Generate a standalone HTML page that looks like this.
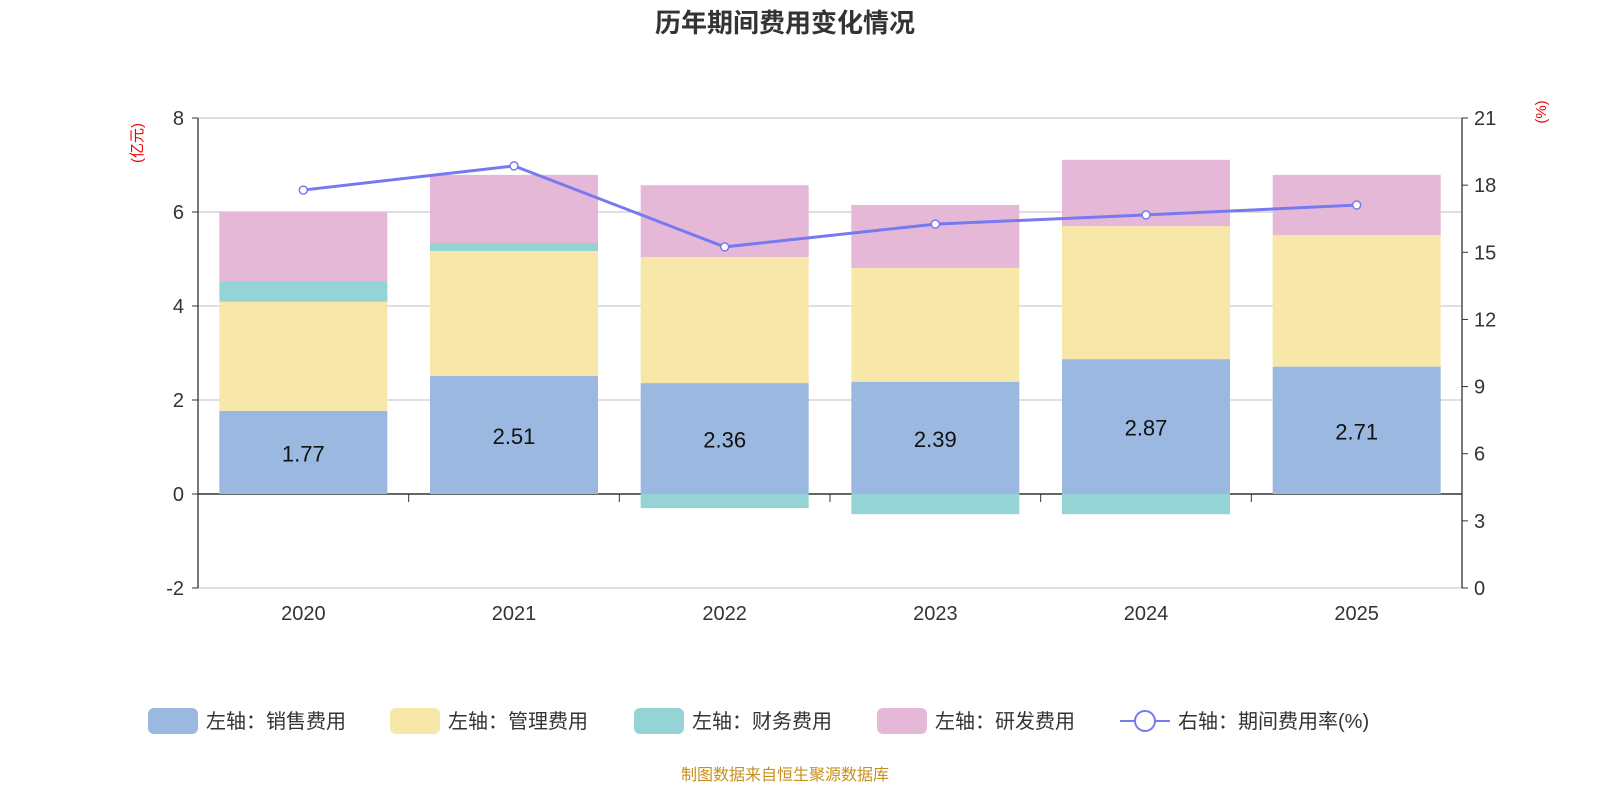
<!DOCTYPE html>
<html><head><meta charset="utf-8"><style>
body{margin:0;background:#fff;font-family:"Liberation Sans","Noto Sans CJK SC",sans-serif;}
svg text{font-family:"Liberation Sans","Noto Sans CJK SC",sans-serif;}
</style></head><body>
<svg id="c" width="1600" height="800">
<text x="785" y="32" text-anchor="middle" font-size="26" font-weight="bold" fill="#333">历年期间费用变化情况</text>
<text x="0" y="0" transform="translate(142,143) rotate(-90)" text-anchor="middle" font-size="15" fill="#e00">(亿元)</text>
<text x="0" y="0" transform="translate(1546,112) rotate(-90)" text-anchor="middle" font-size="15" fill="#e00">(%)</text>
<g id="grid"></g><g id="bars"></g><g id="axes"></g><g id="line"></g>
<g id="legend" font-size="20" fill="#333">
<rect x="148" y="708" width="50" height="26" rx="6" fill="#9bb8e0"/><text x="206" y="728">左轴：销售费用</text>
<rect x="390" y="708" width="50" height="26" rx="6" fill="#f7e7a8"/><text x="448" y="728">左轴：管理费用</text>
<rect x="634" y="708" width="50" height="26" rx="6" fill="#96d3d4"/><text x="692" y="728">左轴：财务费用</text>
<rect x="877" y="708" width="50" height="26" rx="6" fill="#e6b8d7"/><text x="935" y="728">左轴：研发费用</text>
<g><line x1="1120" y1="721" x2="1170" y2="721" stroke="#7779f0" stroke-width="2"/><circle cx="1145" cy="721" r="10" fill="#fff" stroke="#7779f0" stroke-width="2"/></g><text x="1178" y="728">右轴：期间费用率(%)</text>
</g>
<text x="785" y="780" text-anchor="middle" font-size="16" fill="#c8901a">制图数据来自恒生聚源数据库</text>
</svg>
<script>
const years=["2020","2021","2022","2023","2024","2025"];
const sales=[1.77,2.51,2.36,2.39,2.87,2.71];
const admin=[2.32,2.66,2.68,2.42,2.83,2.80];
const finance=[0.44,0.17,-0.30,-0.43,-0.43,0];
const rnd=[1.47,1.45,1.53,1.34,1.41,1.28];
const rate=[17.78,18.86,15.24,16.26,16.67,17.11];
const leftTicks=[-2,0,2,4,6,8];
const rightTicks=[0,3,6,9,12,15,18,21];
const NS="http://www.w3.org/2000/svg";
const X0=198,X1=1462,bw=168,cw=(X1-X0)/years.length;
const yL=v=>494-v*47;
const yR=v=>588-v*(470/21);
const cx=i=>X0+cw*(i+0.5);
function mk(p,t,a){const e=document.createElementNS(NS,t);for(const k in a)e.setAttribute(k,a[k]);document.getElementById(p).appendChild(e);return e;}
leftTicks.forEach(v=>{
 const g=mk('grid','line',{x1:X0,x2:X1,y1:yL(v),y2:yL(v),stroke:v===0?'#333':'#ccc','stroke-width':v===0?1.5:1.3});
 
 
 mk('axes','line',{x1:X0-6,x2:X0,y1:yL(v),y2:yL(v),stroke:'#333'});
 const t=mk('axes','text',{x:X0-14,y:yL(v)+7,'text-anchor':'end','font-size':20,fill:'#333'});t.textContent=v;
 
 
});
rightTicks.forEach(v=>{
 mk('axes','line',{x1:X1,x2:X1+6,y1:yR(v),y2:yR(v),stroke:'#333'});
 const t=mk('axes','text',{x:X1+12,y:yR(v)+7,'font-size':20,fill:'#333'});t.textContent=v;
 
 
});
mk('axes','line',{x1:X0,x2:X0,y1:118,y2:588,stroke:'#333','stroke-width':1.3});
mk('axes','line',{x1:X1,x2:X1,y1:118,y2:588,stroke:'#333','stroke-width':1.3});
for(let i=0;i<=years.length;i++)mk('axes','line',{x1:X0+cw*i,x2:X0+cw*i,y1:494,y2:502,stroke:'#333'});
years.forEach((y,i)=>{
 const t=mk('axes','text',{x:cx(i),y:620,'text-anchor':'middle','font-size':20,fill:'#333'});t.textContent=y;
 
 
 let pos=0,neg=0;
 const series=[[sales,'#9bb8e0','bar-sales'],[admin,'#f7e7a8','bar-admin'],[finance,'#96d3d4','bar-finance'],[rnd,'#e6b8d7','bar-rnd']];
 series.forEach(([arr,col,nm])=>{
  const v=arr[i];let a,b;
  if(v>=0){a=pos;b=pos+v;pos=b;}else{a=neg;b=neg+v;neg=b;}
  const r=mk('bars','rect',{x:cx(i)-bw/2,width:bw,y:Math.min(yL(a),yL(b)),height:Math.abs(yL(a)-yL(b)),fill:col});
  
  
 });
 const l=mk('bars','text',{x:cx(i),y:(yL(0)+yL(sales[i]))/2+9,'text-anchor':'middle','font-size':22,fill:'#111'});l.textContent=sales[i].toFixed(2);
 
 
});
const pl=mk('line','polyline',{points:rate.map((v,i)=>cx(i)+','+yR(v)).join(' '),fill:'none',stroke:'#7779f0','stroke-width':3});


rate.forEach((v,i)=>{
 const c=mk('line','circle',{cx:cx(i),cy:yR(v),r:4,fill:'#fff',stroke:'#7779f0','stroke-width':1.5});
 
 
});
</script>
</body></html>
